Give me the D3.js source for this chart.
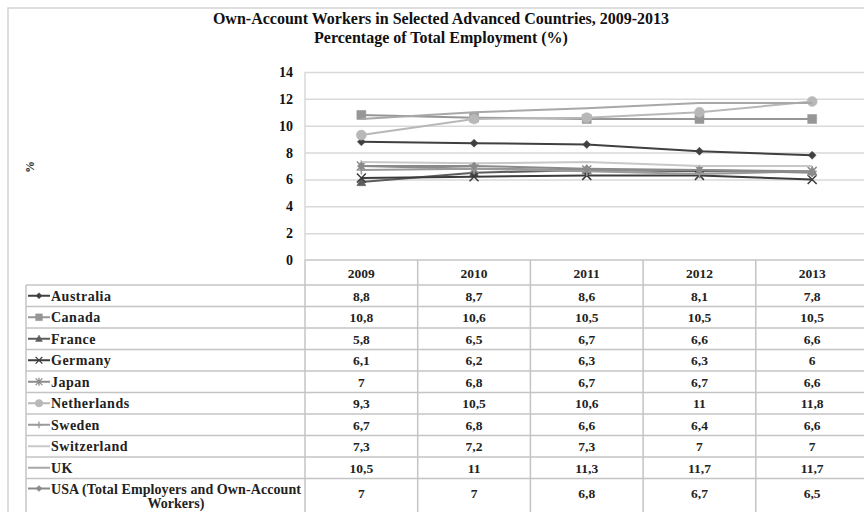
<!DOCTYPE html>
<html><head><meta charset="utf-8">
<script src="https://cdn.jsdelivr.net/npm/d3@7"></script>
<style>
html,body{margin:0;padding:0;background:#fff;}
svg{display:block;font-family:"Liberation Serif","Times New Roman",serif;}
</style></head>
<body><svg id="c" width="864" height="512"></svg>
<script>
const years = ["2009","2010","2011","2012","2013"];
const seriesNames = ["Australia","Canada","France","Germany","Japan","Netherlands","Sweden","Switzerland","UK","USA (Total Employers and Own-Account Workers)"];
const australia   = [8.8, 8.7, 8.6, 8.1, 7.8];
const canada      = [10.8, 10.6, 10.5, 10.5, 10.5];
const france      = [5.8, 6.5, 6.7, 6.6, 6.6];
const germany     = [6.1, 6.2, 6.3, 6.3, 6];
const japan       = [7, 6.8, 6.7, 6.7, 6.6];
const netherlands = [9.3, 10.5, 10.6, 11, 11.8];
const sweden      = [6.7, 6.8, 6.6, 6.4, 6.6];
const switzerland = [7.3, 7.2, 7.3, 7, 7];
const uk          = [10.5, 11, 11.3, 11.7, 11.7];
const usa         = [7, 7, 6.8, 6.7, 6.5];
const yTicks = [0, 2, 4, 6, 8, 10, 12, 14];
const titleLines = ["Own-Account Workers in Selected Advanced Countries, 2009-2013", "Percentage of Total Employment (%)"];
const yLabel = "%";

const values = [australia, canada, france, germany, japan, netherlands, sweden, switzerland, uk, usa];
const styles = [
  {color:"#404040", marker:"diamond"},
  {color:"#969696", marker:"square"},
  {color:"#5c5c5c", marker:"triangle"},
  {color:"#3c3c3c", marker:"x"},
  {color:"#8c8c8c", marker:"star"},
  {color:"#b8b8b8", marker:"circle"},
  {color:"#9a9a9a", marker:"plus"},
  {color:"#c8c8c8", marker:"none"},
  {color:"#a8a8a8", marker:"none"},
  {color:"#8a8a8a", marker:"diamond"}
];

const svg = d3.select("#c");
const plotL = 305, plotR = 868.5, plotT = 72, plotB = 260;
const x = d3.scaleBand().domain(years).range([plotL, plotR]);
const xc = d => x(d) + x.bandwidth()/2;
const y = d3.scaleLinear().domain([0, 14]).range([plotB, plotT]);

// outer chart border
svg.append("path").attr("d", "M8,512V8H864").attr("fill","none").attr("stroke","#d4d4d4").attr("stroke-width",1.5);

// title
svg.append("g").selectAll("text").data(titleLines).join("text")
  .attr("x", 441).attr("y", (d,i) => 24 + i*19)
  .attr("text-anchor","middle").attr("font-weight","bold").attr("font-size","16px").attr("fill","#111")
  .text(d => d);

// y label
svg.append("text").attr("transform","translate(34,167) rotate(-90)")
  .attr("text-anchor","middle").attr("font-weight","bold").attr("font-size","12px").attr("fill","#222").text(yLabel);

// gridlines
svg.append("g").attr("transform",`translate(${plotL},0)`)
  .call(d3.axisLeft(y).tickValues(yTicks.filter(t=>t>0)).tickSize(-(plotR-plotL)).tickFormat(""))
  .call(g => g.select(".domain").remove())
  .call(g => g.selectAll("line").attr("stroke","#d9d9d9").attr("stroke-width",1.5));
// plot left border
svg.append("line").attr("x1",plotL).attr("x2",plotL).attr("y1",y(14)).attr("y2",plotB).attr("stroke","#d9d9d9").attr("stroke-width",1.5);

// y axis labels
svg.append("g").attr("transform",`translate(${plotL},0)`)
  .call(d3.axisLeft(y).tickValues(yTicks).tickSize(0).tickPadding(12))
  .call(g => g.select(".domain").remove())
  .call(g => g.selectAll("text").attr("font-family","Liberation Serif, serif").attr("font-weight","bold").attr("font-size","14px").attr("fill","#111"));

// marker generator
function markerPath(type, s) {
  switch(type){
    case "diamond": return `M0,${-s}L${s},0L0,${s}L${-s},0Z`;
    case "square": return `M${-s},${-s}H${s}V${s}H${-s}Z`;
    case "triangle": return `M0,${-s*1.1}L${s},${s*0.8}L${-s},${s*0.8}Z`;
    case "circle": return d3.symbol(d3.symbolCircle, Math.PI*s*s)();
    case "x": return `M${-s},${-s}L${s},${s}M${-s},${s}L${s},${-s}`;
    case "star": return `M${-s},${-s}L${s},${s}M${-s},${s}L${s},${-s}M0,${-s*1.2}V${s*1.2}`;
    case "plus": return `M${-s},0H${s}M0,${-s}V${s}`;
  }
  return "";
}
const stroked = t => (t==="x"||t==="star"||t==="plus");
const sizes = {diamond:4, square:4.5, triangle:4.5, circle:5, x:4.5, star:4.5, plus:4.5};

const line = d3.line().x((d,i) => xc(years[i])).y(d => y(d));
const series = svg.append("g").selectAll("g").data(values).join("g");
series.append("path").attr("d", d => line(d)).attr("fill","none")
  .attr("stroke",(d,i)=>styles[i].color).attr("stroke-width",2);
series.each(function(d,i){
  const st = styles[i];
  if(st.marker==="none") return;
  d3.select(this).selectAll("path.m").data(d).join("path").attr("class","m")
    .attr("transform",(v,j)=>`translate(${xc(years[j])},${y(v)})`)
    .attr("d", markerPath(st.marker, sizes[st.marker]))
    .attr("fill", stroked(st.marker) ? "none" : st.color)
    .attr("stroke", st.color).attr("stroke-width", stroked(st.marker)?1.5:0.5);
});

// data table
const tableL = 26, headT = 260, headB = 285, rowH = 21.5;
const rowTop = i => headB + i*rowH;
const tcol = "#c4c4c4";
const tg = svg.append("g");
tg.append("line").attr("x1",plotL).attr("x2",864).attr("y1",headT).attr("y2",headT).attr("stroke",tcol).attr("stroke-width",1.5);
tg.selectAll("line.h").data(d3.range(seriesNames.length)).join("line").attr("class","h")
  .attr("x1",tableL).attr("x2",864).attr("y1",i=>rowTop(i)).attr("y2",i=>rowTop(i))
  .attr("stroke",tcol).attr("stroke-width",1.5);
tg.selectAll("line.v").data(years).join("line").attr("class","v")
  .attr("x1",d=>x(d)).attr("x2",d=>x(d)).attr("y1",headT).attr("y2",512)
  .attr("stroke",tcol).attr("stroke-width",1.5);
tg.append("line").attr("x1",tableL).attr("x2",tableL).attr("y1",headB).attr("y2",512).attr("stroke",tcol).attr("stroke-width",1.5);

tg.selectAll("text.yr").data(years).join("text").attr("class","yr")
  .attr("x",d=>xc(d)).attr("y",(headT+headB)/2+5).attr("text-anchor","middle")
  .attr("font-weight","bold").attr("font-size","13.5px").attr("fill","#222").text(d=>d);

const fmt = v => String(v).replace(".", ",");
const rows = tg.selectAll("g.row").data(seriesNames).join("g").attr("class","row");
rows.each(function(name,i){
  const g = d3.select(this);
  const st = styles[i];
  const isLast = i === seriesNames.length-1;
  const cy = isLast ? rowTop(i)+10 : rowTop(i)+rowH/2;
  g.append("line").attr("x1",28).attr("x2",50).attr("y1",cy).attr("y2",cy).attr("stroke",st.color).attr("stroke-width",2);
  if(st.marker!=="none"){
    g.append("path").attr("transform",`translate(39,${cy})`)
      .attr("d", markerPath(st.marker, sizes[st.marker]*0.75))
      .attr("fill", stroked(st.marker) ? "none" : st.color)
      .attr("stroke", st.color).attr("stroke-width", stroked(st.marker)?1.3:0.5);
  }
  if(isLast){
    const parts = ["USA (Total Employers and Own-Account", "Workers)"];
    g.append("text").attr("x",51).attr("y",cy+5).attr("font-weight","bold").attr("font-size","14px").attr("fill","#222")
      .attr("textLength",250).attr("lengthAdjust","spacing").text(parts[0]);
    g.append("text").attr("x",176).attr("y",cy+19).attr("text-anchor","middle").attr("font-weight","bold").attr("font-size","14px").attr("fill","#222").text(parts[1]);
  } else {
    g.append("text").attr("x",51).attr("y",cy+5).attr("font-weight","bold").attr("font-size","14px").attr("fill","#222")
      .attr("letter-spacing","0.5px").text(name);
  }
  const vy = isLast ? rowTop(i)+14 : cy;
  g.selectAll("text.v").data(values[i]).join("text").attr("class","v")
    .attr("x",(v,j)=>xc(years[j])).attr("y",vy+5).attr("text-anchor","middle")
    .attr("font-weight","bold").attr("font-size","13.5px").attr("fill","#222").text(v=>fmt(v));
});
</script></body></html>
